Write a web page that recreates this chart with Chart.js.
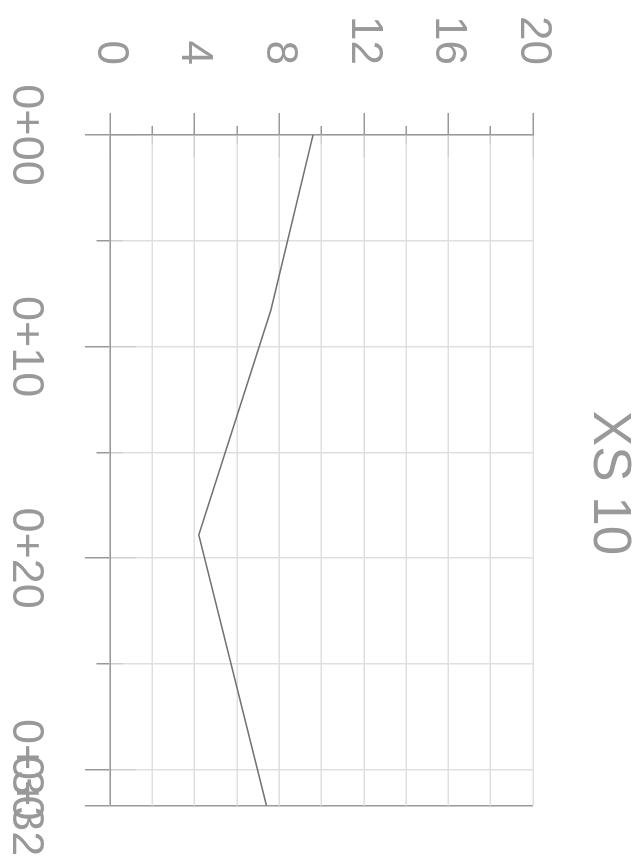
<!DOCTYPE html>
<html>
<head>
<meta charset="utf-8">
<title>XS 10</title>
<script src="https://cdn.jsdelivr.net/npm/chart.js@4.4.1/dist/chart.umd.min.js"></script>
<style>
    html, body { margin: 0; padding: 0; overflow: hidden; background: #fff; }
    /* section is drawn upright, then turned a quarter turn clockwise */
    #section {
        position: absolute;
        left: 0;
        top: 0;
        width: 966px;
        height: 641px;
        transform-origin: 0 0;
        transform: translate(641px, 0) rotate(90deg);
    }
</style>
</head>
<body>
<div id="section"><canvas id="xsChart"></canvas></div>
<script>
// Cross section XS 10 - ground profile along the station line

const stations = [0, 8.3, 18.9, 31.7];
const elevations = [9.6, 7.6, 4.2, 7.4];

const stationTicks = [0, 5, 10, 15, 20, 25, 30, 31.7];
const stationLabelStep = 10;
const elevationTicks = [0, 2, 4, 6, 8, 10, 12, 14, 16, 18, 20];
const elevationLabelStep = 4;

const GREY = '#999999';
const GRID = '#dfdfdf';
const MARK = '#cdcdcd';
const FONT = "'Liberation Sans', Arial, sans-serif";

const lastStation = stationTicks[stationTicks.length - 1];
const lastElevation = elevationTicks[elevationTicks.length - 1];

function stationLabel(v) {
    return '0+' + String(Math.round(v)).padStart(2, '0');
}

function isMajorStation(v) {
    return v % stationLabelStep === 0 || v === lastStation;
}

function isMajorElevation(v) {
    return v % elevationLabelStep === 0;
}

// grid line that is a bit darker where the tick mark crosses into the plot
function markedLine(c, vertical, len) {
    const area = c.chart.chartArea;
    if (!area) return GRID;
    const g = vertical
        ? c.chart.ctx.createLinearGradient(0, area.bottom, 0, area.top)
        : c.chart.ctx.createLinearGradient(area.left, 0, area.right, 0);
    const span = vertical ? area.bottom - area.top : area.right - area.left;
    const f = Math.min(len / span, 1);
    g.addColorStop(0, MARK);
    g.addColorStop(f, MARK);
    g.addColorStop(Math.min(f + 0.001, 1), GRID);
    g.addColorStop(1, GRID);
    return g;
}

const ctx = document.getElementById('xsChart');

new Chart(ctx, {
    type: 'line',
    data: {
        datasets: [{
            label: 'XS 10',
            data: stations.map((s, i) => ({ x: s, y: elevations[i] })),
            borderColor: '#717171',
            borderWidth: 1.5,
            pointRadius: 0,
            tension: 0,
            fill: false
        }]
    },
    options: {
        responsive: true,
        maintainAspectRatio: false,
        animation: false,
        layout: {
            padding: 0
        },
        plugins: {
            legend: { display: false },
            tooltip: { enabled: false },
            title: {
                display: true,
                text: 'XS 10',
                color: GREY,
                font: { family: FONT, size: 53, weight: 'normal' },
                padding: { top: 1, bottom: 43.4 }
            }
        },
        scales: {
            x: {
                type: 'linear',
                min: 0,
                max: lastStation,
                afterBuildTicks: function (scale) {
                    scale.ticks = stationTicks.map(v => ({ value: v }));
                },
                afterFit: function (scale) {
                    scale.height = 110;
                },
                ticks: {
                    autoSkip: false,
                    maxRotation: 0,
                    minRotation: 0,
                    padding: 33,
                    color: GREY,
                    font: { family: FONT, size: 45 },
                    callback: function (value) {
                        return isMajorStation(value) ? stationLabel(value) : '';
                    }
                },
                grid: {
                    lineWidth: 1.5,
                    tickLength: 25,
                    tickWidth: 1.5,
                    tickColor: GREY,
                    color: function (c) {
                        if (!c.tick) return GRID;
                        if (c.tick.value === lastStation) return GREY;
                        return markedLine(c, true, isMajorStation(c.tick.value) ? 26 : 13);
                    },
                    // short marks at the half stations
                    tickBorderDash: function (c) {
                        return c.tick && !isMajorStation(c.tick.value) ? [13, 100] : [];
                    }
                },
                border: { color: GREY, width: 1.5 }
            },
            y: {
                type: 'linear',
                min: 0,
                max: lastElevation,
                afterBuildTicks: function (scale) {
                    scale.ticks = elevationTicks.map(v => ({ value: v }));
                },
                afterFit: function (scale) {
                    scale.width = 135;
                },
                ticks: {
                    autoSkip: false,
                    padding: 48,
                    color: GREY,
                    font: { family: FONT, size: 44 },
                    callback: function (value) {
                        return isMajorElevation(value) ? String(value) : '';
                    }
                },
                grid: {
                    lineWidth: 1.5,
                    tickLength: 22,
                    tickWidth: 1.5,
                    tickColor: GREY,
                    color: function (c) {
                        if (!c.tick) return GRID;
                        return markedLine(c, false, isMajorElevation(c.tick.value) ? 22 : 9);
                    },
                    // short marks at the odd steps
                    tickBorderDash: function (c) {
                        return c.tick && !isMajorElevation(c.tick.value) ? [9, 13] : [];
                    },
                    tickBorderDashOffset: function (c) {
                        return c.tick && !isMajorElevation(c.tick.value) ? 9 : 0;
                    }
                },
                border: { color: GREY, width: 1.5 }
            },
            // empty band on the far side that keeps the plot clear of the right edge
            side: {
                type: 'linear',
                position: 'right',
                min: 0,
                max: lastElevation,
                afterFit: function (scale) {
                    scale.width = 160.3;
                },
                ticks: { display: false },
                grid: { display: false, drawOnChartArea: false },
                border: { display: false }
            }
        }
    }
});
</script>
</body>
</html>
